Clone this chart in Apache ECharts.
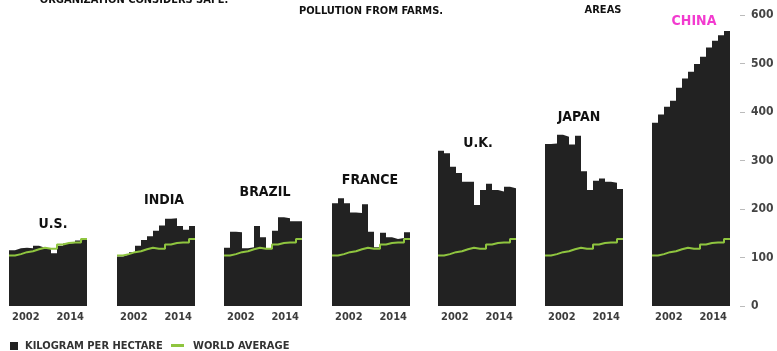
<!DOCTYPE html>
<html>
<head>
<meta charset="utf-8">
<script src="https://cdn.jsdelivr.net/npm/echarts@6/dist/echarts.min.js"></script>
<style>
  html, body { margin: 0; padding: 0; background: #fff; }
  #chart { width: 777px; height: 351px; }
</style>
</head>
<body>
<div id="chart"></div>
<script>
// Fertilizer consumption, kilograms per hectare of arable land, 2002-2014
const YEARS = [2002, 2003, 2004, 2005, 2006, 2007, 2008, 2009, 2010, 2011, 2012, 2013, 2014];
const COUNTRIES = ['U.S.', 'INDIA', 'BRAZIL', 'FRANCE', 'U.K.', 'JAPAN', 'CHINA'];

const US     = [115, 119, 120, 119, 124, 120, 117, 109, 124, 129, 130, 135, 138];
const INDIA  = [102, 106, 111, 124, 136, 144, 155, 166, 180, 181, 165, 157, 165];
const BRAZIL = [120, 153, 152, 119, 121, 165, 142, 119, 155, 183, 181, 175, 175];
const FRANCE = [212, 222, 212, 193, 192, 210, 153, 121, 151, 142, 138, 140, 152];
const UK     = [320, 315, 287, 274, 256, 256, 208, 239, 252, 239, 236, 246, 243];
const JAPAN  = [334, 335, 353, 349, 333, 351, 278, 239, 258, 263, 256, 254, 241];
const CHINA  = [378, 395, 411, 423, 450, 469, 483, 499, 514, 533, 547, 558, 567];
const WORLD_AVERAGE = [104, 107, 111, 113, 117, 120, 118, 118, 127, 130, 131, 131, 138];

const Y_TICKS = [0, 100, 200, 300, 400, 500, 600];
const YEAR_LABELS = [2002, 2014];

const VALUES = [US, INDIA, BRAZIL, FRANCE, UK, JAPAN, CHINA];

// panel layout
const FONT = '"DejaVu Sans Condensed", "DejaVu Sans", sans-serif';
const PANEL_LEFT = [9, 117, 224, 332, 438, 545, 652];
const PANEL_W = 78;
const TITLE_POS = [[53, 224], [164, 200], [265, 192], [370, 180], [478, 143], [579, 117], [694, 21]];
const INK = '#222222';
const GREEN = '#8fc53f';

// one step per year: each value holds from year-0.5 to year+0.5
function stepPoints(vals) {
  const pts = vals.map((v, k) => [YEARS[k] - 0.5, v]);
  pts.push([YEARS[YEARS.length - 1] + 0.5, vals[vals.length - 1]]);
  return pts;
}

const grid = [], xAxis = [], yAxis = [], series = [], graphic = [];

COUNTRIES.forEach((name, i) => {
  grid.push({ left: PANEL_LEFT[i], width: PANEL_W, top: 15, bottom: 45 });
  xAxis.push({
    type: 'value', gridIndex: i,
    min: YEARS[0] - 0.5, max: YEARS[YEARS.length - 1] + 0.5,
    axisLine: { show: false }, axisTick: { show: false }, splitLine: { show: false },
    axisLabel: {
      customValues: YEAR_LABELS,
      formatter: v => String(v),
      alignMinLabel: 'left', alignMaxLabel: 'right',
      margin: 6, color: '#3c3c3c', fontSize: 11, fontWeight: 'bold', fontFamily: FONT
    }
  });
  const last = i === COUNTRIES.length - 1;
  yAxis.push({
    type: 'value', gridIndex: i, min: 0, max: 600, interval: 100,
    show: last, position: 'right', offset: 10,
    axisLine: { show: false },
    axisTick: { show: true, length: 5, lineStyle: { color: '#bbbbbb', width: 1 } },
    splitLine: { show: false },
    axisLabel: {
      customValues: Y_TICKS,
      margin: 11, color: '#444', fontSize: 12, fontWeight: 'bold', fontFamily: FONT
    }
  });
  series.push({
    name: 'KILOGRAM PER HECTARE', type: 'line', step: 'end',
    xAxisIndex: i, yAxisIndex: i, symbol: 'none', silent: true,
    data: stepPoints(VALUES[i]),
    lineStyle: { width: 0, color: INK },
    areaStyle: { color: INK, opacity: 1 },
    z: 2
  });
  series.push({
    name: 'WORLD AVERAGE', type: 'line', step: 'end',
    xAxisIndex: i, yAxisIndex: i, symbol: 'none', silent: true,
    data: stepPoints(WORLD_AVERAGE),
    lineStyle: { width: 2, color: GREEN },
    z: 3
  });
  graphic.push({
    type: 'text', x: TITLE_POS[i][0], y: TITLE_POS[i][1],
    style: {
      text: name, fill: last ? '#f23bcf' : '#111',
      font: 'bold 14px ' + FONT, align: 'center', verticalAlign: 'middle'
    }
  });
});

// notes running along the top edge
graphic.push(
  { type: 'text', x: 134, y: 0, style: { text: 'ORGANIZATION CONSIDERS SAFE.', fill: '#111', font: 'bold 11px ' + FONT, align: 'center', verticalAlign: 'middle' } },
  { type: 'text', x: 371, y: 11, style: { text: 'POLLUTION FROM FARMS.', fill: '#111', font: 'bold 11px ' + FONT, align: 'center', verticalAlign: 'middle' } },
  { type: 'text', x: 603, y: 10, style: { text: 'AREAS', fill: '#111', font: 'bold 11px ' + FONT, align: 'center', verticalAlign: 'middle' } }
);

// legend
graphic.push(
  { type: 'rect', shape: { x: 10, y: 342, width: 8, height: 8 }, style: { fill: INK } },
  { type: 'text', x: 25, y: 346, style: { text: 'KILOGRAM PER HECTARE', fill: '#333', font: 'bold 11px ' + FONT, align: 'left', verticalAlign: 'middle' } },
  { type: 'rect', shape: { x: 171, y: 344, width: 13, height: 3 }, style: { fill: GREEN } },
  { type: 'text', x: 193, y: 346, style: { text: 'WORLD AVERAGE', fill: '#333', font: 'bold 11px ' + FONT, align: 'left', verticalAlign: 'middle' } }
);

const chart = echarts.init(document.getElementById('chart'), null, { renderer: 'canvas' });
chart.setOption({
  animation: false,
  backgroundColor: '#fff',
  grid, xAxis, yAxis, series, graphic
});
</script>
</body>
</html>
